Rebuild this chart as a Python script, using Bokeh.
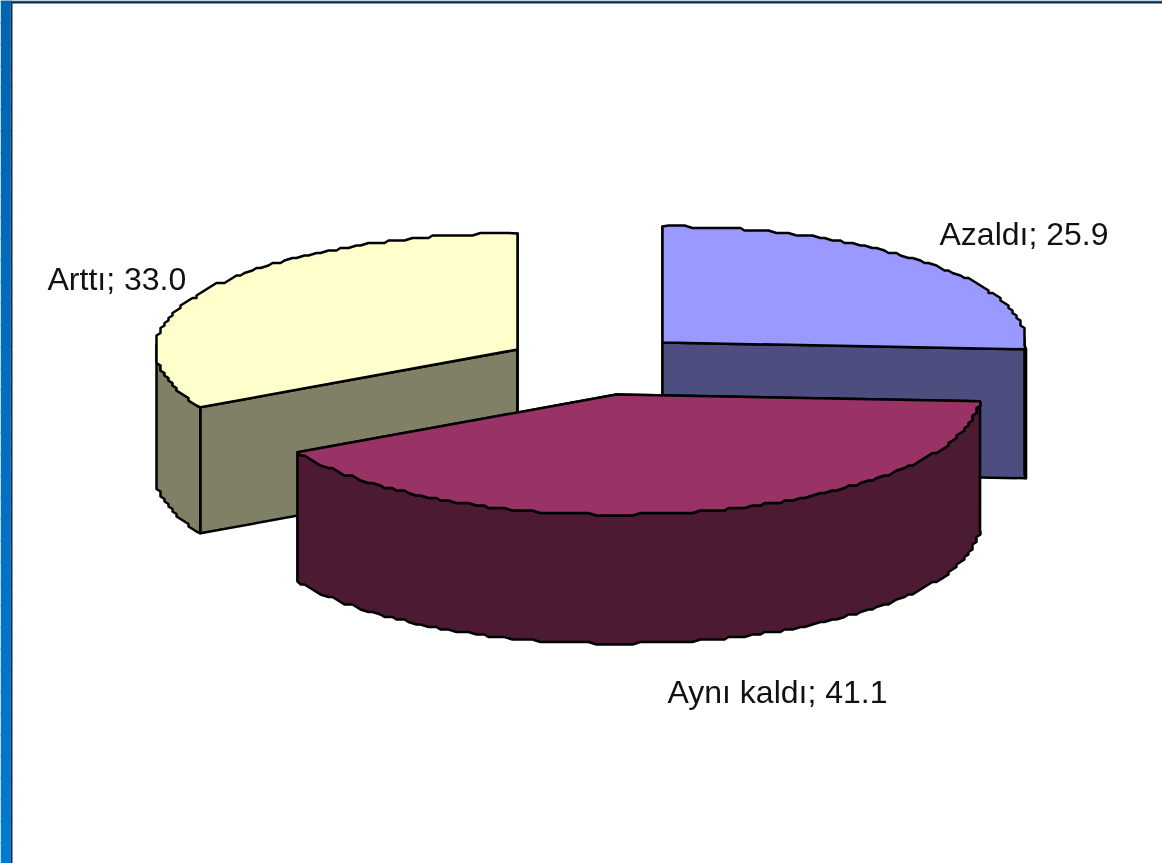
import math
from bokeh.plotting import figure
from bokeh.embed import file_html
from bokeh.resources import INLINE
from bokeh.core.properties import value as pv

labels = ["Azaldı", "Aynı kaldı", "Arttı"]
values = [25.9, 41.1, 33.0]
top_colors = ["#9999FF", "#993366", "#FFFFCC"]
side_colors = ["#4D4D80", "#4D1A33", "#808066"]
apex_x = [662, 616, 517]
apex_y = [342, 394, 349]
radii = [364, 364, 362]
depths = [129, 129, 126]
label_x = [939, 667, 47]
label_y = [233, 691, 278]

W, H = 1162, 863
B_BACK, B_FRONT = 116, 120

p = figure(width=W, height=H, x_range=(0, W), y_range=(H, 0), toolbar_location=None,
           output_backend="svg", min_border=0, outline_line_color=None,
           background_fill_color="white", border_fill_color="white")
p.axis.visible = False
p.grid.visible = False
p.styles = {"position": "fixed", "left": "0px", "top": "0px"}

# window frame
n = 40
ys = [H * i / n for i in range(n + 1)]
cols = []
for i in range(n):
    t = i / (n - 1)
    cols.append("#%02x%02x%02x" % (0, int(100 + 22 * t), int(178 + 32 * t)))
p.quad(left=[0] * n, right=[10] * n, top=ys[:-1], bottom=[y + 2 for y in ys[1:]],
       fill_color=cols, line_color=None)
p.quad(left=[10], right=[12], top=[0], bottom=[H], fill_color="#0B2F55", line_color=None)
p.quad(left=[0], right=[W], top=[0], bottom=[1.5], fill_color="#00609F", line_color=None)
p.quad(left=[10], right=[W], top=[1.5], bottom=[3], fill_color="#0B2F55", line_color=None)


def pt(cx, cy, a, deg):
    r = math.radians(deg)
    c = math.cos(r)
    b = B_BACK if c > 0 else B_FRONT
    return cx + a * math.sin(r), cy - b * c


def arc(cx, cy, a, d0, d1):
    """Slightly stair-stepped outline, as in the reference's low-resolution export."""
    steps = max(2, int(abs(d1 - d0) / 1.2))
    out = []
    for i in range(steps + 1):
        d = d0 + (d1 - d0) * i / steps
        x, y = pt(cx, cy, a, d)
        if 0 < i < steps:
            x, y = round(x / 4) * 4, round(y / 2.5) * 2.5
        out.append((x, y))
    return out


def draw(xs, ys, color):
    p.patch(xs, ys, fill_color=color, line_color="black", line_width=2.5, line_join="round")


starts = []
acc = 0.0
for v in values:
    starts.append(acc)
    acc += v / sum(values) * 360


def slice_draw(i):
    cx, cy, dep, rad = apex_x[i], apex_y[i], depths[i], radii[i]
    d0 = starts[i]
    d1 = d0 + values[i] / sum(values) * 360
    a = arc(cx, cy, rad, d0, d1)
    e0, e1 = a[0], a[-1]
    draw([cx, e0[0], e0[0], cx], [cy, e0[1], e0[1] + dep, cy + dep], side_colors[i])
    draw([cx, e1[0], e1[0], cx], [cy, e1[1], e1[1] + dep, cy + dep], side_colors[i])
    rim = [q for q in a if q[1] >= cy - 6]
    if len(rim) >= 2:
        xs = [q[0] for q in rim] + [q[0] for q in reversed(rim)]
        ys_ = [q[1] for q in rim] + [q[1] + dep for q in reversed(rim)]
        draw(xs, ys_, side_colors[i])
    draw([cx] + [q[0] for q in a], [cy] + [q[1] for q in a], top_colors[i])


for i in (2, 0, 1):
    slice_draw(i)

texts = ["%s; %.1f" % (l, v) for l, v in zip(labels, values)]
p.text(x=label_x, y=label_y, text=texts, text_font=pv("Liberation Sans"), text_font_size="32px",
       text_color="#111111", text_baseline="alphabetic", text_align="left")

open("out.html", "w").write(file_html(p, INLINE))
